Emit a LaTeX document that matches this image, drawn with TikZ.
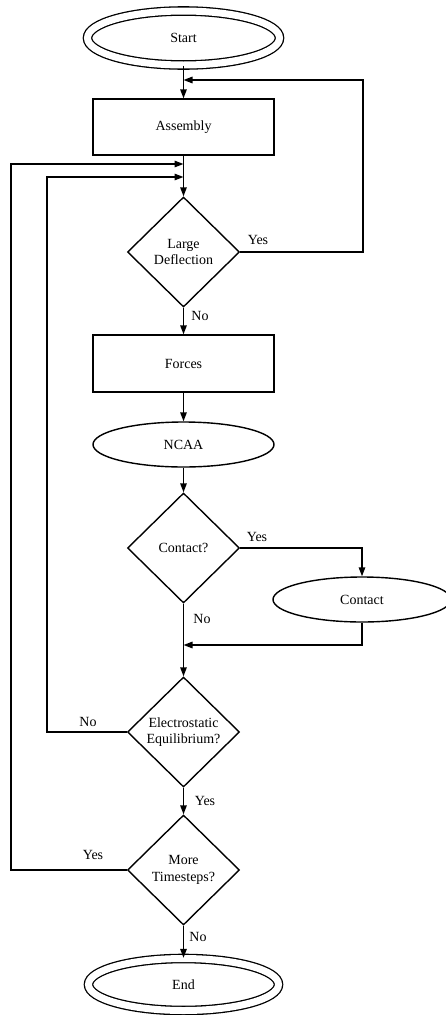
\documentclass[tikz,border=0pt]{standalone}
\usepackage{fontspec}
\setmainfont{Liberation Serif}
\usetikzlibrary{shapes.geometric,arrows.meta}
\begin{document}
\begin{tikzpicture}[x=1pt,y=1pt,
  every node/.style={font=\fontsize{14}{16.5}\selectfont},
  ln/.style={line width=1.4pt},
  arr/.style={ln,-{Triangle[length=9pt,width=6.5pt]}},
  procbox/.style={draw,ln,rectangle,minimum width=181pt,minimum height=56pt,inner sep=0pt},
  oval/.style={draw,ln,ellipse,inner sep=0pt},
  termoval/.style={draw,line width=1.3pt,double=white,double distance=7pt,ellipse,inner sep=0pt,minimum width=192pt,minimum height=54pt},
  decide/.style={draw,ln,diamond,inner sep=0pt,minimum width=112pt,minimum height=110pt,align=center},
  lbl/.style={inner sep=0pt}
]
\useasboundingbox (0,0) rectangle (446,-1015);
\node[termoval] (start) at (183.5,-38) {Start};
\node[procbox] (asm) at (183.5,-127) {Assembly};
\node[decide] (ld) at (183.5,-252) {Large\\Deflection};
\node[procbox,minimum height=57pt] (forces) at (183.5,-363.5) {Forces};
\node[oval,minimum width=181pt,minimum height=45pt] (ncaa) at (183.5,-444.5) {NCAA};
\node[decide] (cq) at (183.5,-548) {Contact?};
\node[oval,minimum width=178pt,minimum height=45pt] (contact) at (362,-599.5) {Contact};
\node[decide] (es) at (183.5,-732) {Electrostatic\\Equilibrium?};
\node[decide] (mt) at (183.5,-870) {More\\Timesteps?};
\node[termoval,minimum width=190pt,minimum height=52pt] (end) at (183.5,-984.5) {End};

\coordinate (j1) at (183.5,-80);
\coordinate (j2) at (183.5,-164);
\coordinate (j3) at (183.5,-177);
\coordinate (j4) at (183.5,-645);
\coordinate (r1) at (363,-80);
\coordinate (l1) at (47,-177);
\coordinate (l2) at (11,-164);

\draw[arr] (start.south) -- (asm.north);
\draw[arr] (ld.east) -| (r1) -- (j1);
\draw[arr] (asm.south) -- (ld.north);
\draw[arr] (ld.south) -- (forces.north);
\draw[arr] (forces.south) -- (ncaa.north);
\draw[arr] (ncaa.south) -- (cq.north);
\draw[arr] (cq.east) -| (contact.north);
\draw[arr] (cq.south) -- (es.north);
\draw[arr] (contact.south) |- (j4);
\draw[arr] (es.west) -| (l1) -- (j3);
\draw[arr] (es.south) -- (mt.north);
\draw[arr] (mt.west) -| (l2) -- (j2);
\draw[arr] (mt.south) -- (end.north);

\node[lbl] (y1) at (258,-240) {Yes};
\node[lbl] (n1) at (200,-316) {No};
\node[lbl] (y2) at (257,-537) {Yes};
\node[lbl] (n2) at (202,-619) {No};
\node[lbl] (n3) at (88,-722) {No};
\node[lbl] (y3) at (205,-801) {Yes};
\node[lbl] (y4) at (93,-855) {Yes};
\node[lbl] (n4) at (198,-937) {No};
\end{tikzpicture}
\end{document}
